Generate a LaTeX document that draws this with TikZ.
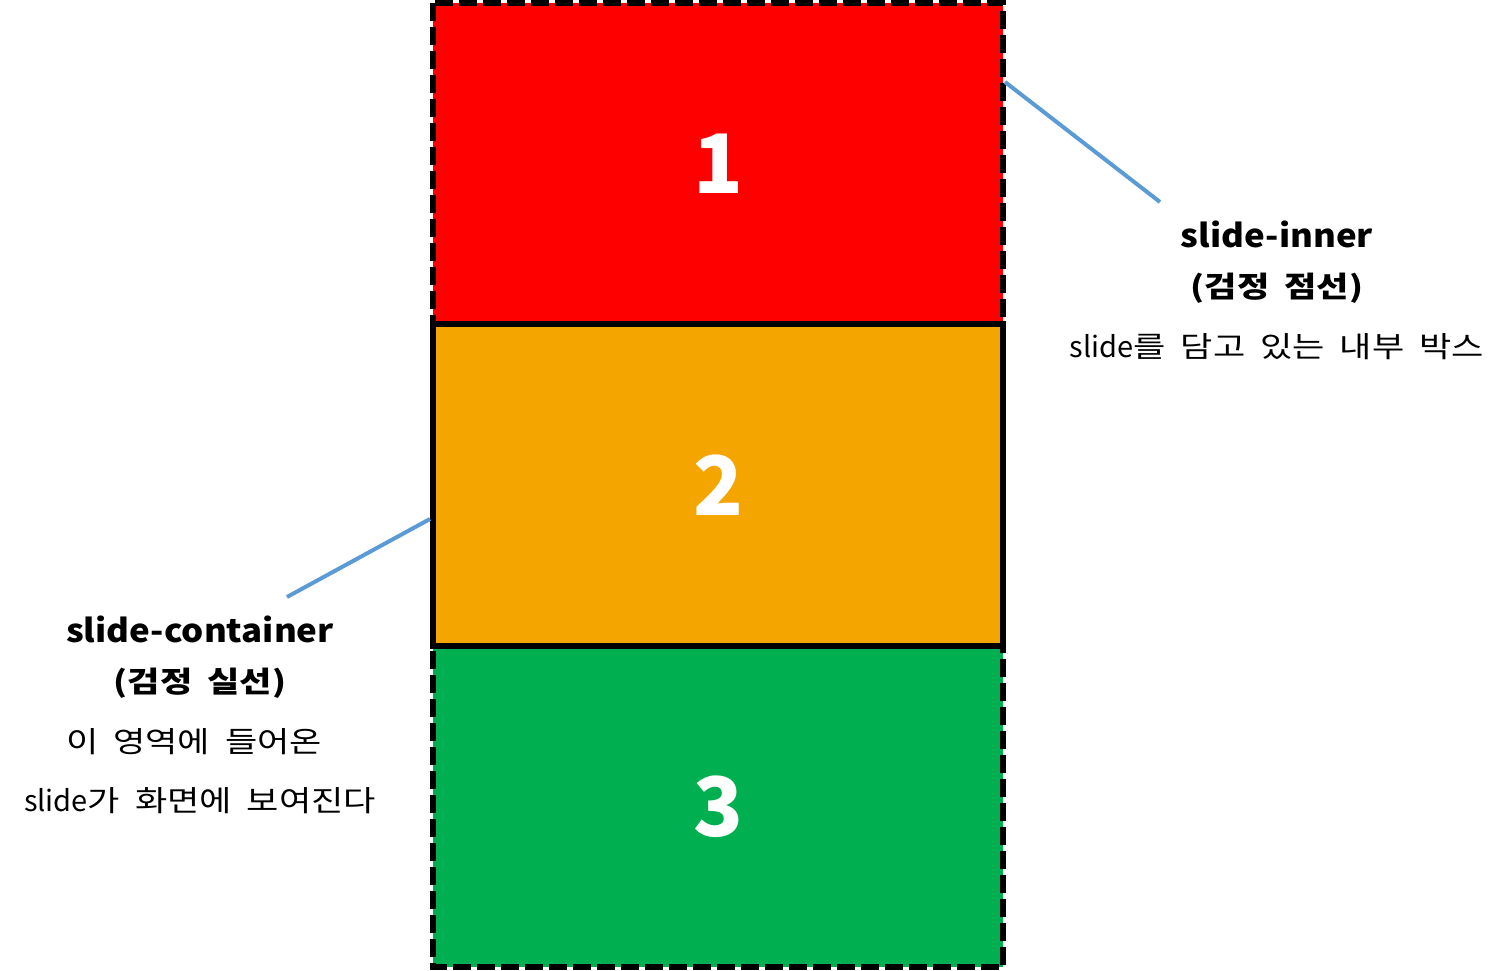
\documentclass[tikz,border=0pt]{standalone}
\usepackage{fontspec}
\setmainfont{Noto Sans CJK KR}
\newfontfamily\titlefont[FakeStretch=1.09]{Noto Sans CJK KR}
\newfontfamily\kfont[FakeStretch=1.21, WordSpace=1.9]{Noto Sans CJK KR}
\definecolor{cred}{HTML}{FF0000}
\definecolor{corange}{HTML}{F5A500}
\definecolor{cgreen}{HTML}{00B050}
\definecolor{cblue}{HTML}{5B9BD5}
\begin{document}
\begin{tikzpicture}[x=1pt,y=-1pt,
  slidebox/.style={rectangle, inner sep=0pt, outer sep=0pt, minimum width=570pt,
    text=white, font=\fontsize{82}{90}\selectfont\bfseries},
  dashborder/.style={draw=black, line width=6pt, dash pattern=on 18pt off 6pt},
  solidborder/.style={draw=black, line width=6pt},
  leader/.style={draw=cblue, line width=4pt},
  title/.style={inner sep=0pt, font=\titlefont\fontsize{32}{36}\selectfont\bfseries},
  sub/.style={inner sep=0pt, font=\kfont\fontsize{29}{34}\selectfont\bfseries},
  desc/.style={inner sep=0pt, font=\kfont\fontsize{29}{34}\selectfont}]
\useasboundingbox (0,0) rectangle (1506,970);
% boxes 1 and 3
\node[slidebox, fill=cred, minimum height=321pt] (s1) at (718,163.5) {1};
\node[slidebox, fill=cgreen, minimum height=321pt] (s3) at (718,806.5) {3};
% outer dashed border (slide-inner)
\draw[dashborder] (s1.north west) rectangle (s3.south east);
% box 2 with solid border (slide-container)
\node[slidebox, fill=corange, solidborder, minimum height=322pt] (s2) at (718,485) {2};
% labels right
\node[title] (t1) at (1277,234) {slide-inner};
\node[sub] (t2) at (1277,288) {(검정 점선)};
\node[desc] (t3) at (1277,347) {{\rmfamily slide}를 담고 있는 내부 박스};
% labels left
\node[title] (c1) at (200,629) {slide-container};
\node[sub] (c2) at (200,683) {(검정 실선)};
\node[desc] (c3) at (194,742) {이 영역에 들어온};
\node[desc] (c4) at (200,801) {{\rmfamily slide}가 화면에 보여진다};
% leaders
\coordinate (p1) at (1160,202);
\coordinate (p2) at (287,597);
\draw[leader] (s1.north east) ++(2,79) -- (p1);
\draw[leader] (s2.north west) ++(-3,195) -- (p2);
\end{tikzpicture}
\end{document}
